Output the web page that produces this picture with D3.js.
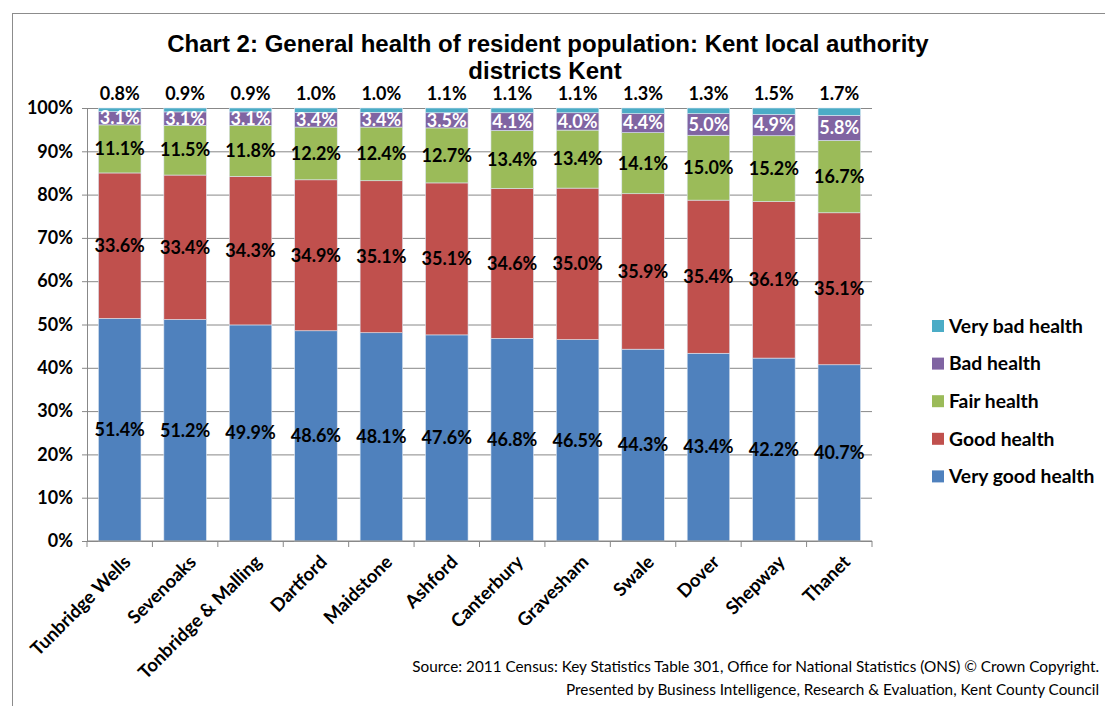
<!DOCTYPE html>
<html>
<head>
<meta charset="utf-8">
<script src="https://cdn.jsdelivr.net/npm/d3@7"></script>
<style>
  body { margin: 0; background: #fff; }
</style>
</head>
<body>
<svg></svg>
<script>
let svgWidth = 1105;
let svgHeight = 706;

let districts = ["Tunbridge Wells", "Sevenoaks", "Tonbridge & Malling", "Dartford", "Maidstone",
                 "Ashford", "Canterbury", "Gravesham", "Swale", "Dover", "Shepway", "Thanet"];
let veryGood = [51.4, 51.2, 49.9, 48.6, 48.1, 47.6, 46.8, 46.5, 44.3, 43.4, 42.2, 40.7];
let good     = [33.6, 33.4, 34.3, 34.9, 35.1, 35.1, 34.6, 35.0, 35.9, 35.4, 36.1, 35.1];
let fair     = [11.1, 11.5, 11.8, 12.2, 12.4, 12.7, 13.4, 13.4, 14.1, 15.0, 15.2, 16.7];
let bad      = [3.1, 3.1, 3.1, 3.4, 3.4, 3.5, 4.1, 4.0, 4.4, 5.0, 4.9, 5.8];
let veryBad  = [0.8, 0.9, 0.9, 1.0, 1.0, 1.1, 1.1, 1.1, 1.3, 1.3, 1.5, 1.7];

let seriesNames = ["Very good health", "Good health", "Fair health", "Bad health", "Very bad health"];
let seriesColors = ["#4F81BD", "#C0504D", "#9BBB59", "#8064A2", "#4BACC6"];
let yTicks = [0, 0.1, 0.2, 0.3, 0.4, 0.5, 0.6, 0.7, 0.8, 0.9, 1];

let labelFont = "Lato, 'Open Sans', sans-serif";
let titleFont = "'Liberation Sans', Arial, sans-serif";

let rows = districts.map((d, i) => ({
	district: d,
	"Very good health": veryGood[i],
	"Good health": good[i],
	"Fair health": fair[i],
	"Bad health": bad[i],
	"Very bad health": veryBad[i]
}));

let stacked = d3.stack()
	.keys(seriesNames)
	.offset(d3.stackOffsetExpand)(rows);

var svg = d3.select("svg")
	.attr("width", svgWidth)
	.attr("height", svgHeight)
	.style("font-family", labelFont);

// outer chart border
svg.append("rect")
	.attr("x", 12.5).attr("y", 13.5)
	.attr("width", 1200).attr("height", 800)
	.attr("fill", "none")
	.attr("stroke", "#8c8c8c");

let xScale = d3.scaleBand()
	.domain(districts)
	.range([87, 872])
	.paddingInner(0.35)
	.paddingOuter(0.175);

let yScale = d3.scaleLinear()
	.domain([0, 1])
	.range([541, 108]);

// gridlines + y axis
let yAxis = d3.axisLeft(yScale)
	.tickValues(yTicks)
	.tickFormat(d3.format(".0%"))
	.tickSize(-(872 - 87))
	.tickSizeOuter(0)
	.tickPadding(14);

let gy = svg.append("g")
	.attr("transform", "translate(87,0)")
	.call(yAxis);
gy.select(".domain").attr("stroke", "#888");
gy.selectAll(".tick line").attr("stroke", "#888").attr("x1", -5);
gy.selectAll(".tick text")
	.style("font-family", labelFont)
	.style("font-size", "18px")
	.style("font-weight", "bold")
	.attr("fill", "#000");

// bars
let layers = svg.append("g")
	.selectAll("g")
	.data(stacked)
	.enter()
	.append("g")
	.attr("fill", (d, i) => seriesColors[i]);

layers.selectAll("rect")
	.data(d => d)
	.enter()
	.append("rect")
	.attr("x", d => xScale(d.data.district))
	.attr("y", d => yScale(d[1]))
	.attr("width", xScale.bandwidth())
	.attr("height", d => yScale(d[0]) - yScale(d[1]))
	.attr("stroke", "#dce6f2")
	.attr("stroke-width", 0.6);

// x axis
let xAxisG = svg.append("g").attr("transform", "translate(0,541)");
xAxisG.append("line")
	.attr("x1", 87).attr("x2", 872)
	.attr("stroke", "#888");
xAxisG.selectAll(".xtick")
	.data(d3.range(districts.length + 1))
	.enter()
	.append("line")
	.attr("x1", i => 87 + i * (872 - 87) / districts.length)
	.attr("x2", i => 87 + i * (872 - 87) / districts.length)
	.attr("y1", 0).attr("y2", 6)
	.attr("stroke", "#888");
xAxisG.selectAll(".xlabel")
	.data(districts)
	.enter()
	.append("text")
	.attr("transform", d => `translate(${xScale(d) + xScale.bandwidth() / 2 + 3}, 13) rotate(-45)`)
	.attr("text-anchor", "end")
	.attr("dy", "0.7em")
	.style("font-size", "18.5px")
	.style("font-weight", "bold")
	.text(d => d);

// data labels inside segments (first four series)
stacked.slice(0, 4).forEach((layer, li) => {
	svg.append("g")
		.selectAll("text")
		.data(layer)
		.enter()
		.append("text")
		.attr("x", d => xScale(d.data.district) + xScale.bandwidth() / 2)
		.attr("y", d => yScale((d[0] + d[1]) / 2))
		.attr("dy", "0.35em")
		.attr("text-anchor", "middle")
		.style("font-size", "18px")
		.style("font-weight", "bold")
		.attr("fill", li === 3 ? "#fff" : "#000")
		.text(d => d.data[layer.key].toFixed(1) + "%");
});

// very bad health labels above bars
svg.append("g")
	.selectAll("text")
	.data(stacked[4])
	.enter()
	.append("text")
	.attr("x", d => xScale(d.data.district) + xScale.bandwidth() / 2)
	.attr("y", 94)
	.attr("dy", "0.35em")
	.attr("text-anchor", "middle")
	.style("font-size", "18px")
	.style("font-weight", "bold")
	.text(d => d.data["Very bad health"].toFixed(1) + "%");

// Title
svg.append("text")
	.attr("x", 548)
	.attr("y", 52)
	.attr("text-anchor", "middle")
	.style("font-family", titleFont)
	.style("font-size", "24px")
	.style("font-weight", "bold")
	.text("Chart 2: General health of resident population: Kent local authority");
svg.append("text")
	.attr("x", 545)
	.attr("y", 79)
	.attr("text-anchor", "middle")
	.style("font-family", titleFont)
	.style("font-size", "24px")
	.style("font-weight", "bold")
	.text("districts Kent");

// Legend
let legendOrder = seriesNames.slice().reverse();
let legend = svg.append("g")
	.selectAll("g")
	.data(legendOrder)
	.enter()
	.append("g")
	.attr("transform", (d, i) => `translate(932, ${326 + i * 37.6})`);
legend.append("rect")
	.attr("x", 0).attr("y", -6)
	.attr("width", 12).attr("height", 12)
	.attr("fill", d => seriesColors[seriesNames.indexOf(d)]);
legend.append("text")
	.attr("x", 17)
	.attr("dy", "0.35em")
	.style("font-size", "19.3px")
	.style("font-weight", "bold")
	.text(d => d);

// Source
svg.append("text")
	.attr("x", 1099)
	.attr("y", 672)
	.attr("text-anchor", "end")
	.style("font-size", "15.3px")
	.text("Source: 2011 Census: Key Statistics Table 301, Office for National Statistics (ONS) © Crown Copyright.");
svg.append("text")
	.attr("x", 1099)
	.attr("y", 695)
	.attr("text-anchor", "end")
	.style("font-size", "15.3px")
	.text("Presented by Business Intelligence, Research & Evaluation, Kent County Council");
</script>
</body>
</html>
